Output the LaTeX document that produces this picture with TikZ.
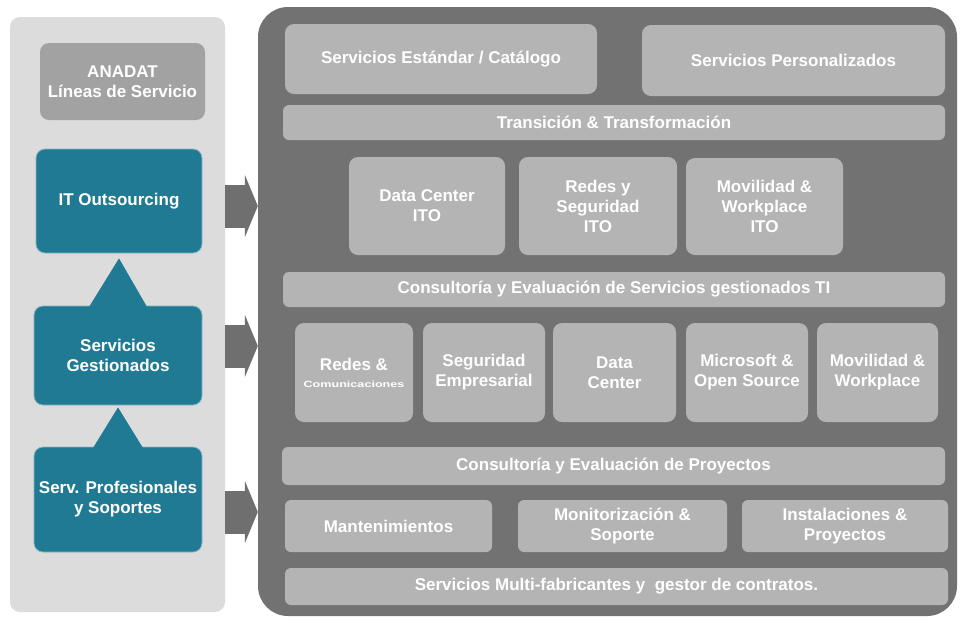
\documentclass[tikz,border=0pt]{standalone}
\usepackage{fontspec}
\setmainfont{Liberation Sans}
\usepackage{tikz}
\usetikzlibrary{calc,arrows.meta}
\usepackage{color}
\definecolor{panellight}{HTML}{DCDCDC}
\definecolor{paneldark}{HTML}{727272}
\definecolor{boxgray}{HTML}{B4B4B4}
\definecolor{labelgray}{HTML}{A2A2A2}
\definecolor{lineteal}{HTML}{217A93}
\definecolor{arrowgray}{HTML}{6F6F6F}

\begin{document}
\begin{tikzpicture}[x=1pt,y=-1pt,
    box/.style={fill=boxgray, rounded corners=9pt, text=white, align=center, inner sep=0pt,
      font=\bfseries\fontsize{17}{20}\selectfont},
    tealbox/.style={box, fill=lineteal, draw=lineteal!55!white, line width=.8pt},
    bigarrow/.style={arrowgray, line width=43pt, -{Triangle[length=13pt,width=62pt]}}]
          \useasboundingbox[fill=white] (0,0) rectangle (960,619);

          %%    % panels
          \node[fill=panellight, rounded corners=10pt, minimum width=215pt, minimum height=595pt] (lp) at (117.5,314.5) {};
          \node[fill=paneldark, rounded corners=30pt, minimum width=699pt, minimum height=609pt] (rp) at (607.5,311.5) {};

          %%    % lineas de servicio
          \node[box, fill=labelgray, minimum width=165pt, minimum height=77pt] (anadat) at (122.5,81.5) {ANADAT\\L\'ineas de Servicio};
          \node[tealbox, minimum width=166pt, minimum height=104pt] (ito) at (119,201) {IT Outsourcing};
          \node[tealbox, minimum width=168pt, minimum height=99pt] (sg) at (118,355.5) {Servicios\\Gestionados};
          \node[tealbox, minimum width=168pt, minimum height=105pt] (sp) at (118,499.5) {Serv. Profesionales\\y Soportes};
          \fill[lineteal] ($(sg.north)+(-30,3)$) -- ($(ito.south)+(0,5)$) -- ($(sg.north)+(30,3)$) -- cycle;
          \fill[lineteal] ($(sp.north)+(-26,3)$) -- ($(sg.south)+(0,2)$) -- ($(sp.north)+(26,3)$) -- cycle;

          \foreach \y [count=\i] in {206,346,512} {
            \coordinate (a\i) at (240,\y);
            \draw[bigarrow] (lp.east |- a\i) -- (rp.west |- a\i);
          }

          %%    % catalogo
          \node[box, minimum width=312pt, minimum height=70pt] (std) at (441,59) {Servicios Est\'andar / Cat\'alogo};
          \node[box, minimum width=303pt, minimum height=71pt] (pers) at (793.5,60.5) {Servicios Personalizados};
          \node[box, rounded corners=6pt, minimum width=662pt, minimum height=35pt] (tt) at (614,122.5) {Transici\'on \& Transformaci\'on};

          %%    % ITO
          \node[box, minimum width=156pt, minimum height=98pt] (dcito) at (427,206) {Data Center\\ITO};
          \node[box, minimum width=158pt, minimum height=98pt] (rsito) at (598,206) {Redes y\\Seguridad\\ITO};
          \node[box, minimum width=157pt, minimum height=97pt] (mwito) at (764.5,206.5) {Movilidad \&\\Workplace\\ITO};
          \node[box, rounded corners=6pt, minimum width=662pt, minimum height=35pt] (cest) at (614,289.5) {Consultor\'ia y Evaluaci\'on de Servicios gestionados TI};

          %%    % gestionados
          \node[box, minimum width=118pt, minimum height=99pt] (rc) at (354,372.5) {Redes \&\\[-3pt]{\fontsize{9}{10}\selectfont\scalebox{1.4}[1]{Comunicaciones}}};
          \node[box, minimum width=122pt, minimum height=99pt] (se) at (484,372.5) {Seguridad\\Empresarial};
          \node[box, minimum width=123pt, minimum height=99pt] (dc) at (614.5,372.5) {Data\\Center};
          \node[box, minimum width=122pt, minimum height=99pt] (ms) at (747,372.5) {Microsoft \&\\Open Source};
          \node[box, minimum width=121pt, minimum height=99pt] (mw) at (877.5,372.5) {Movilidad \&\\Workplace};
          \node[box, rounded corners=6pt, minimum width=663pt, minimum height=38pt] (cep) at (613.5,466) {Consultor\'ia y Evaluaci\'on de Proyectos};

          %%    % profesionales
          \node[box, rounded corners=6pt, minimum width=207pt, minimum height=52pt] (mant) at (388.5,526) {Mantenimientos};
          \node[box, rounded corners=6pt, minimum width=209pt, minimum height=52pt] (mon) at (622.5,526) {Monitorizaci\'on \&\\Soporte};
          \node[box, rounded corners=6pt, minimum width=206pt, minimum height=52pt] (inst) at (845,526) {Instalaciones \&\\Proyectos};
          \node[box, rounded corners=6pt, minimum width=663pt, minimum height=37pt] (smf) at (616.5,586.5) {Servicios Multi-fabricantes y\ \ gestor de contratos.};

        \end{tikzpicture}
\end{document}
